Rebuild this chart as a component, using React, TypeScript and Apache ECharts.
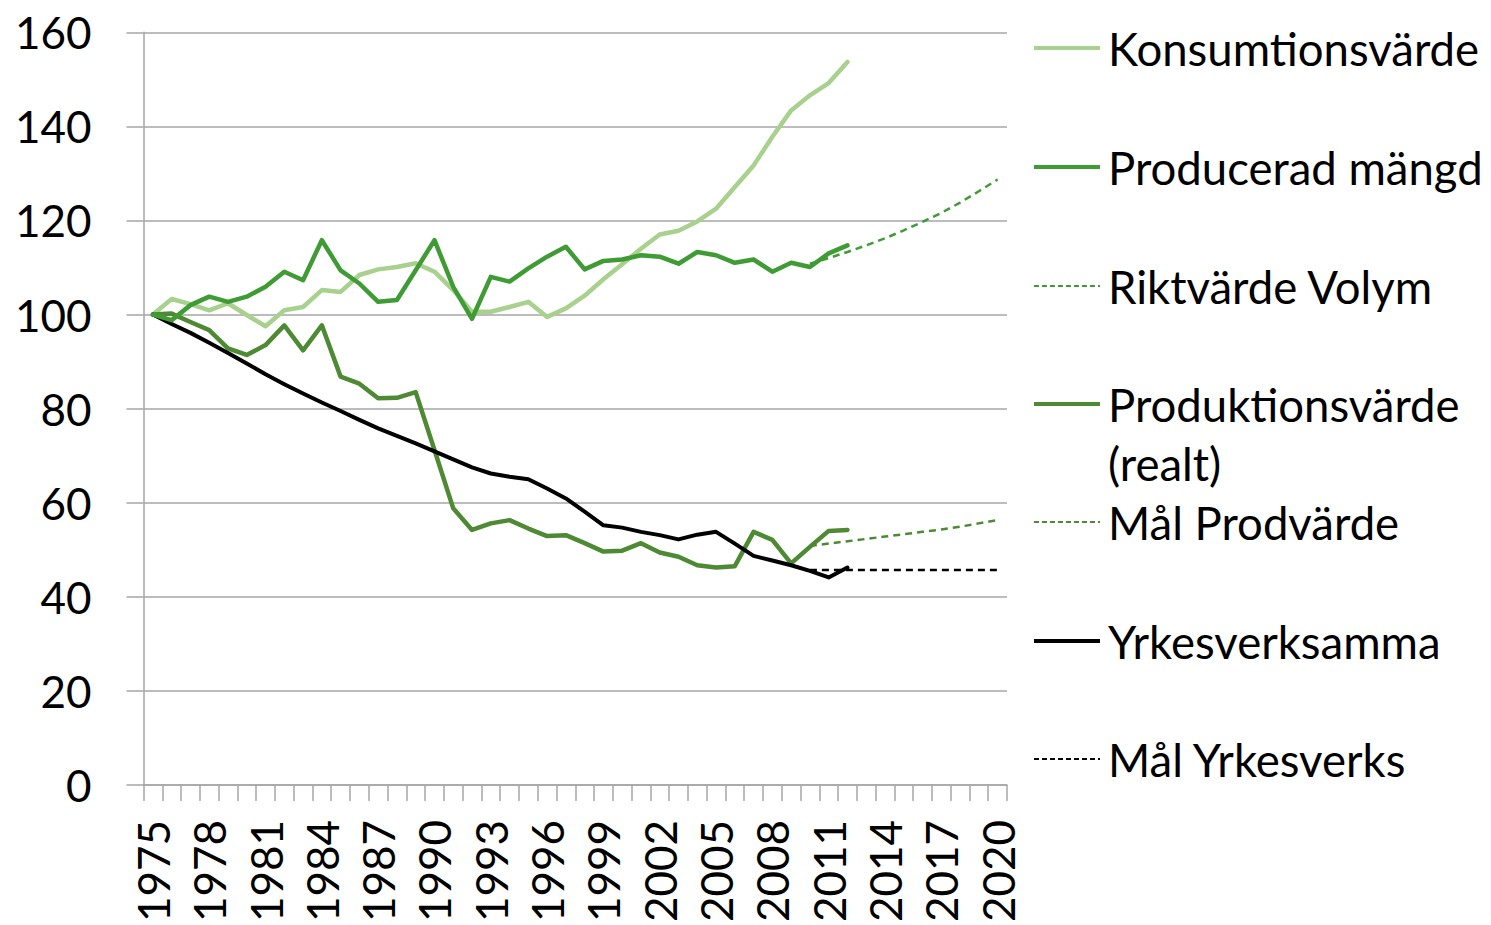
import React, { useEffect, useRef } from "react";
import * as echarts from "echarts";

const years: string[] = [
  "1975","1976","1977","1978","1979","1980","1981","1982","1983","1984",
  "1985","1986","1987","1988","1989","1990","1991","1992","1993","1994",
  "1995","1996","1997","1998","1999","2000","2001","2002","2003","2004",
  "2005","2006","2007","2008","2009","2010","2011","2012","2013","2014",
  "2015","2016","2017","2018","2019","2020",
];

// 1975–2012
const konsumtionsvarde: number[] = [
  100, 103.3, 102.2, 100.9, 102.4, 99.9, 97.5, 100.9, 101.6, 105.2,
  104.8, 108.4, 109.6, 110.1, 110.9, 109.1, 105.2, 100.6, 100.6, 101.6,
  102.7, 99.5, 101.3, 104.0, 107.5, 110.7, 114.0, 117.0, 117.8, 119.8,
  122.5, 127.1, 131.7, 137.8, 143.4, 146.6, 149.2, 153.7,
];

// 1975–2012
const produceradMangd: number[] = [
  100, 98.8, 102.0, 103.8, 102.7, 103.8, 105.9, 109.1, 107.3, 115.8,
  109.4, 106.6, 102.7, 103.1, 109.4, 115.8, 105.9, 99.1, 108.0, 107.0,
  109.8, 112.3, 114.4, 109.6, 111.4, 111.7, 112.6, 112.3, 110.8, 113.3,
  112.6, 111.0, 111.7, 109.1, 111.0, 110.1, 113.0, 114.7,
];

// 2010–2020
const riktvardeVolym: number[] = [
  110.8, 112.0, 113.3, 114.7, 116.2, 117.9, 119.7, 121.6, 123.8, 126.2, 128.7,
];

// 1975–2012
const produktionsvarde: number[] = [
  100, 100.2, 98.4, 96.7, 92.8, 91.4, 93.5, 97.7, 92.4, 97.7,
  86.8, 85.3, 82.2, 82.3, 83.5, 71.2, 58.8, 54.2, 55.6, 56.3,
  54.5, 52.9, 53.1, 51.4, 49.6, 49.8, 51.4, 49.4, 48.5, 46.7,
  46.2, 46.5, 53.8, 52.1, 47.1, 50.6, 54.0, 54.2,
];

// 2010–2020
const malProdvarde: number[] = [
  50.8, 51.3, 51.8, 52.3, 52.8, 53.3, 53.8, 54.3, 54.9, 55.6, 56.3,
];

// 1975–2012
const yrkesverksamma: number[] = [
  100, 98.0, 96.1, 94.0, 91.8, 89.6, 87.3, 85.2, 83.2, 81.3,
  79.5, 77.6, 75.8, 74.2, 72.6, 70.9, 69.2, 67.5, 66.2, 65.5,
  65.0, 63.0, 60.9, 58.1, 55.2, 54.7, 53.8, 53.1, 52.2, 53.2,
  53.8, 51.3, 48.7, 47.7, 46.7, 45.5, 44.1, 46.2,
];

// 2010–2020
const malYrkesverks: number[] = [
  45.7, 45.7, 45.7, 45.7, 45.7, 45.7, 45.7, 45.7, 45.7, 45.7, 45.7,
];

const yTicks = { min: 0, max: 160, interval: 20 };

const C_KONS = "#a9d18e";
const C_PROD = "#3f9c35";
const C_PVAL = "#4e8a34";
const C_BLACK = "#000000";

const FONT = "Lato, 'Open Sans', sans-serif";

function fromStart(vals: number[]): (number | null)[] {
  const out: (number | null)[] = years.map(() => null);
  vals.forEach((v, i) => (out[i] = v));
  return out;
}
function fromYear(startYear: string, vals: number[]): (number | null)[] {
  const out: (number | null)[] = years.map(() => null);
  const s = years.indexOf(startYear);
  vals.forEach((v, i) => (out[s + i] = v));
  return out;
}

const legendItems = [
  { name: "Konsumtionsvärde", lines: ["Konsumtionsvärde"], color: C_KONS, dashed: false, y: 48 },
  { name: "Producerad mängd", lines: ["Producerad mängd"], color: C_PROD, dashed: false, y: 167 },
  { name: "Riktvärde Volym", lines: ["Riktvärde Volym"], color: C_PROD, dashed: true, y: 286 },
  { name: "Produktionsvärde (realt)", lines: ["Produktionsvärde", "(realt)"], color: C_PVAL, dashed: false, y: 404 },
  { name: "Mål Prodvärde", lines: ["Mål Prodvärde"], color: C_PVAL, dashed: true, y: 522 },
  { name: "Yrkesverksamma", lines: ["Yrkesverksamma"], color: C_BLACK, dashed: false, y: 641 },
  { name: "Mål Yrkesverks", lines: ["Mål Yrkesverks"], color: C_BLACK, dashed: true, y: 759 },
];

export default function App() {
  const ref = useRef<HTMLDivElement>(null);
  useEffect(() => {
    if (!ref.current) return;
    const chart = echarts.init(ref.current, undefined, { renderer: "svg" });

    const solid = (name: string, data: (number | null)[], color: string, width: number, z: number) => ({
      name,
      type: "line",
      data,
      showSymbol: false,
      symbol: "none",
      connectNulls: false,
      lineStyle: { color, width, cap: "round", join: "round" },
      itemStyle: { color },
      z,
    });
    const dashed = (name: string, data: (number | null)[], color: string) => ({
      name,
      type: "line",
      data,
      showSymbol: false,
      symbol: "none",
      lineStyle: { color, width: 2.5, type: [7, 5] },
      itemStyle: { color },
      z: 1,
    });

    const graphics: any[] = [];
    legendItems.forEach((it) => {
      graphics.push({
        type: "line",
        shape: { x1: 1034, y1: it.y, x2: 1100, y2: it.y },
        style: {
          stroke: it.color,
          lineWidth: it.dashed ? 2 : 4,
          lineDash: it.dashed ? [5, 3] : null,
        },
      });
      it.lines.forEach((t, k) => {
        graphics.push({
          type: "text",
          x: 1108,
          y: it.y + k * 59,
          style: {
            text: t,
            font: `45.5px ${FONT}`,
            fill: "#000",
            textVerticalAlign: "middle",
            textAlign: "left",
          },
        });
      });
    });

    chart.setOption({
      animation: false,
      backgroundColor: "#fff",
      grid: { left: 143.5, right: 484, top: 32.3, bottom: 140, containLabel: false },
      xAxis: {
        type: "category",
        data: years,
        boundaryGap: true,
        axisLine: { show: true, lineStyle: { color: "#a6a6a6", width: 1.5 } },
        axisTick: { show: true, interval: 0, length: 16, lineStyle: { color: "#a6a6a6", width: 1.5 } },
        axisLabel: {
          interval: 2,
          rotate: 90,
          margin: 35,
          color: "#000",
          fontFamily: FONT,
          fontSize: 44,
        },
        splitLine: { show: false },
      },
      yAxis: {
        type: "value",
        min: yTicks.min,
        max: yTicks.max,
        interval: yTicks.interval,
        axisLine: { show: true, lineStyle: { color: "#a6a6a6", width: 1.5 } },
        axisTick: { show: true, length: 17, lineStyle: { color: "#a6a6a6", width: 1.5 } },
        axisLabel: {
          margin: 52,
          color: "#000",
          fontFamily: FONT,
          fontSize: 44,
        },
        splitLine: { show: true, lineStyle: { color: "#a6a6a6", width: 1.5 } },
      },
      series: [
        solid("Konsumtionsvärde", fromStart(konsumtionsvarde), C_KONS, 4.5, 2),
        solid("Producerad mängd", fromStart(produceradMangd), C_PROD, 4.5, 4),
        dashed("Riktvärde Volym", fromYear("2010", riktvardeVolym), C_PROD),
        solid("Produktionsvärde (realt)", fromStart(produktionsvarde), C_PVAL, 4.5, 3),
        dashed("Mål Prodvärde", fromYear("2010", malProdvarde), C_PVAL),
        solid("Yrkesverksamma", fromStart(yrkesverksamma), C_BLACK, 4, 3),
        dashed("Mål Yrkesverks", fromYear("2010", malYrkesverks), C_BLACK),
      ],
      graphic: graphics,
    });

    return () => chart.dispose();
  }, []);

  return (
    <div
      ref={ref}
      style={{ position: "fixed", left: 0, top: 0, width: 1491, height: 925, background: "#fff" }}
    />
  );
}
